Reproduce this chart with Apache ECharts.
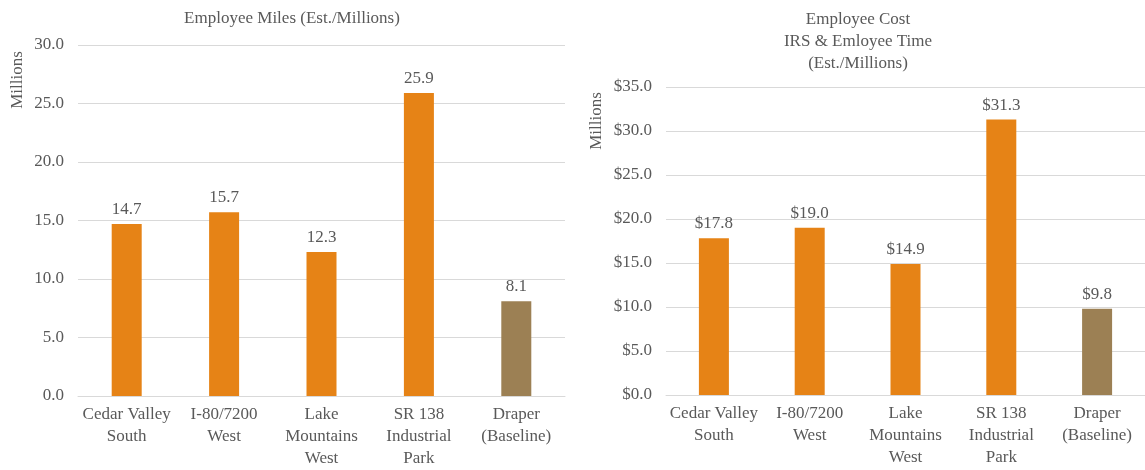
<!DOCTYPE html>
<html>
<head>
<meta charset="utf-8"/>
<title>Employee Miles / Employee Cost</title>
<script src="https://cdn.jsdelivr.net/npm/echarts@6/dist/echarts.min.js"></script>
<style>
    html, body { margin: 0; padding: 0; background: #fff; }
    #main { width: 1145px; height: 470px; }
</style>
</head>
<body>
<div id="main"></div>
<script>
    // sites (same for both charts)
    var sites = ['Cedar Valley\nSouth', 'I-80/7200\nWest', 'Lake\nMountains\nWest', 'SR 138\nIndustrial\nPark', 'Draper\n(Baseline)'];
    // left: employee miles, millions
    var milesValues = [14.7, 15.7, 12.3, 25.9, 8.1];
    var milesTicks = [0, 30, 5];          // min, max, step
    // right: employee cost, $ millions
    var costValues = [17.8, 19.0, 14.9, 31.3, 9.8];
    var costTicks = [0, 35, 5];

    var ORANGE = '#E68316';
    var BROWN = '#9C8054';
    var TXT = '#595959';
    var FONT = '"Liberation Serif", "DejaVu Serif", serif';

    // last bar (baseline) gets the brown colour
    function barData(vals) {
        return vals.map(function (v, i) {
            return { value: v, itemStyle: { color: i === vals.length - 1 ? BROWN : ORANGE } };
        });
    }

    function xAx(gi) {
        return {
            type: 'category', gridIndex: gi, data: sites,
            axisTick: { show: false },
            axisLine: { lineStyle: { color: '#D9D9D9' } },
            axisLabel: { color: TXT, fontFamily: FONT, fontSize: 17, lineHeight: 22, margin: 8, interval: 0 }
        };
    }

    function yAx(gi, t, pre) {
        return {
            type: 'value', gridIndex: gi, min: t[0], max: t[1], interval: t[2],
            axisLine: { show: false }, axisTick: { show: false },
            splitLine: { lineStyle: { color: '#D9D9D9' } },
            axisLabel: {
                color: TXT, fontFamily: FONT, fontSize: 17, margin: 14,
                formatter: function (v) { return pre + v.toFixed(1); }
            }
        };
    }

    function ser(gi, vals, pre) {
        return {
            type: 'bar', xAxisIndex: gi, yAxisIndex: gi, barWidth: 30,
            data: barData(vals),
            label: {
                show: true, position: 'top', distance: 6,
                color: TXT, fontFamily: FONT, fontSize: 17,
                formatter: function (p) { return pre + p.value.toFixed(1); }
            }
        };
    }

    var chart = echarts.init(document.getElementById('main'));
    chart.setOption({
        animation: false,
        title: [
            { text: 'Employee Miles (Est./Millions)', left: 287, top: 5, textAlign: 'center',
              textStyle: { color: TXT, fontFamily: FONT, fontSize: 17, fontWeight: 'normal' } },
            { text: 'Employee Cost\nIRS & Emloyee Time\n(Est./Millions)', left: 853, top: 4, textAlign: 'center',
              textStyle: { color: TXT, fontFamily: FONT, fontSize: 17, fontWeight: 'normal', lineHeight: 22 } }
        ],
        graphic: [
            { type: 'text', x: 18, y: 80, rotation: Math.PI / 2,
              style: { text: 'Millions', fill: TXT, font: '17px ' + FONT, align: 'center', verticalAlign: 'middle' } },
            { type: 'text', x: 597, y: 121, rotation: Math.PI / 2,
              style: { text: 'Millions', fill: TXT, font: '17px ' + FONT, align: 'center', verticalAlign: 'middle' } }
        ],
        grid: [
            { left: 78, right: 580, top: 45, bottom: 74, outerBoundsMode: 'none' },
            { left: 666, right: 0, top: 87, bottom: 75, outerBoundsMode: 'none' }
        ],
        xAxis: [xAx(0), xAx(1)],
        yAxis: [yAx(0, milesTicks, ''), yAx(1, costTicks, '$')],
        series: [ser(0, milesValues, ''), ser(1, costValues, '$')]
    });
</script>
</body>
</html>
